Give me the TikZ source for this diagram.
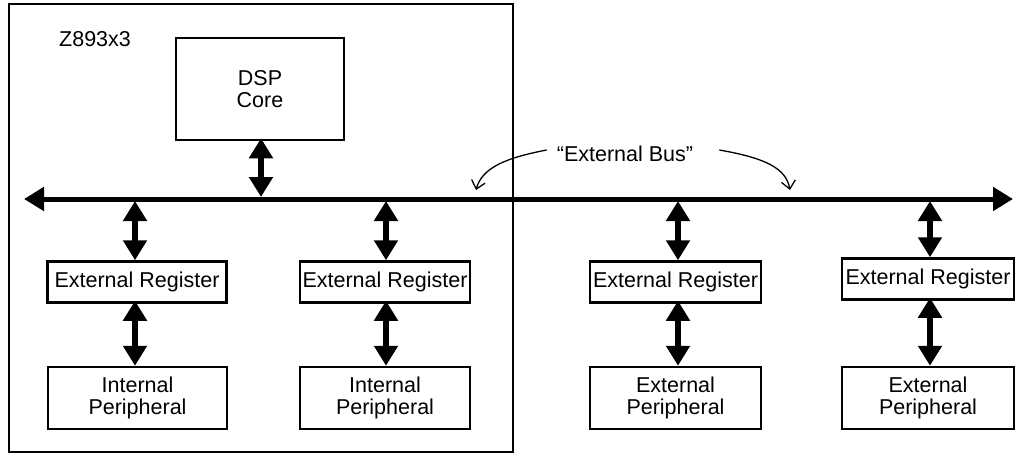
\documentclass[tikz,border=0pt]{standalone}
\usepackage{fontspec}
\setmainfont{Liberation Sans}
\usetikzlibrary{arrows.meta}
\begin{document}
\begin{tikzpicture}[x=1pt,y=-1pt,
  box/.style={draw, line width=2.5pt, inner sep=0pt, align=center,
    font=\fontsize{21.5}{21.5}\selectfont},
  regbox/.style={box, minimum height=41pt},
  perbox/.style={box, minimum height=62pt},
  lbl/.style={inner sep=0pt, font=\fontsize{21.5}{22}\selectfont},
  thick arrow/.style={line width=5.5pt, {Triangle[width=23pt,length=20pt]}-{Triangle[width=23pt,length=20pt]}},
  bus arrow/.style={line width=5pt, {Triangle[width=23pt,length=20pt]}-{Triangle[width=23pt,length=20pt]}},
  thin arrow/.style={line width=1.3pt, -{Straight Barb[length=8pt,width=14pt,line width=1.3pt]}}
]
\useasboundingbox (0,0) rectangle (1017,455);
% chip outline
\node[draw, line width=2.5pt, minimum width=504pt, minimum height=448pt, inner sep=0pt] (chip) at (261,228) {};
\node[lbl, anchor=west] (chiplbl) at (59,39) {Z893x3};
% DSP core
\node[box, minimum width=168pt, minimum height=102pt] (dsp) at (260,89) {DSP\\Core};
% bus
\coordinate (busL) at (24,199);
\coordinate (busR) at (1013,199);
\draw[bus arrow] (busL) -- (busR);
\coordinate (dspbus) at (261,197);
\draw[thick arrow] ([yshift=3pt]dsp.south -| dspbus) -- (dspbus);
% registers
\node[regbox, minimum width=179pt] (r1) at (137,282) {External Register};
\node[regbox, minimum width=170pt] (r2) at (385,282) {External Register};
\node[regbox, minimum width=171pt] (r3) at (675.5,282) {External Register};
\node[regbox, minimum width=172pt] (r4) at (928,279) {External Register};
% peripherals
\node[perbox, minimum width=179pt] (p1) at (137.5,398) {Internal\\Peripheral};
\node[perbox, minimum width=170pt] (p2) at (385,398) {Internal\\Peripheral};
\node[perbox, minimum width=171pt] (p3) at (675.5,398) {External\\Peripheral};
\node[perbox, minimum width=172pt] (p4) at (928,398) {External\\Peripheral};
% bus taps
\foreach \i/\x in {1/135,2/386,3/678,4/930}{
  \coordinate (t\i) at (\x,201);
  \draw[thick arrow] (t\i) -- (t\i |- r\i.north);
  \draw[thick arrow] ([yshift=3pt]r\i.south -| t\i) -- (p\i.north -| t\i);
}
% external bus label
\node[lbl] (ebus) at (625,154) {“External Bus”};
\coordinate (eL) at (476,190);
\coordinate (eR) at (790,190);
\draw[thin arrow] ([xshift=-10pt,yshift=4pt]ebus.west) .. controls (505,158) and (482,168) .. (eL);
\draw[thin arrow] ([xshift=26pt,yshift=4pt]ebus.east) .. controls (765,158) and (786,168) .. (eR);
\end{tikzpicture}
\end{document}
